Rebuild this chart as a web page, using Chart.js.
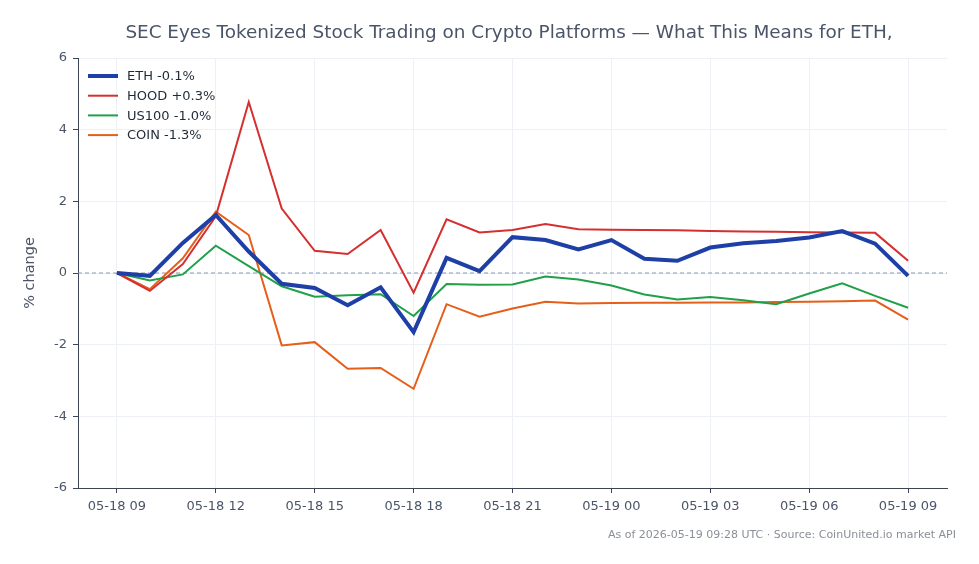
<!DOCTYPE html>
<html>
<head>
<meta charset="utf-8">
<script src="https://cdn.jsdelivr.net/npm/chart.js@4.4.1/dist/chart.umd.min.js"></script>
<style>
  html, body { margin: 0; padding: 0; background: #fff; }
  canvas { display: block; }
</style>
</head>
<body>
<canvas id="chart" width="979" height="564"></canvas>
<script>
// hours since 05-18 09:00 UTC
const hours = [0, 1, 2, 3, 4, 5, 6, 7, 8, 9, 10, 11, 12, 13, 14, 15, 16, 17, 18, 19, 20, 21, 22, 23, 24];
const tickHours = [0, 3, 6, 9, 12, 15, 18, 21, 24];
const tickLabels = ['05-18 09', '05-18 12', '05-18 15', '05-18 18', '05-18 21', '05-19 00', '05-19 03', '05-19 06', '05-19 09'];

const ethValues = [0, -0.08, 0.84, 1.62, 0.6, -0.3, -0.42, -0.9, -0.4, -1.65, 0.42, 0.05, 1.0, 0.92, 0.66, 0.92, 0.4, 0.34, 0.71, 0.83, 0.89, 0.99, 1.17, 0.82, -0.08];
const hoodValues = [0, -0.5, 0.25, 1.58, 4.77, 1.8, 0.62, 0.53, 1.2, -0.55, 1.5, 1.13, 1.2, 1.37, 1.22, 1.21, 1.2, 1.19, 1.17, 1.16, 1.15, 1.14, 1.13, 1.12, 0.34];
const us100Values = [0, -0.21, -0.04, 0.76, 0.19, -0.37, -0.66, -0.62, -0.59, -1.2, -0.31, -0.33, -0.32, -0.1, -0.18, -0.35, -0.6, -0.74, -0.67, -0.76, -0.87, -0.57, -0.29, -0.64, -0.97];
const coinValues = [0, -0.45, 0.41, 1.71, 1.06, -2.02, -1.93, -2.67, -2.65, -3.23, -0.87, -1.22, -0.99, -0.8, -0.85, -0.84, -0.83, -0.83, -0.82, -0.82, -0.81, -0.8, -0.79, -0.77, -1.3];

const seriesLabels = ['ETH -0.1%', 'HOOD +0.3%', 'US100 -1.0%', 'COIN -1.3%'];
const seriesColors = ['#1e3fa6', '#d62f2f', '#20a04a', '#e4601a'];
const seriesWidths = [4, 2, 2, 2];

const titleText = 'SEC Eyes Tokenized Stock Trading on Crypto Platforms — What This Means for ETH,';
const footerText = 'As of 2026-05-19 09:28 UTC · Source: CoinUnited.io market API';

const FONT = '"DejaVu Sans", sans-serif';
const TEXT_COLOR = '#4a5568';

function points(values) {
    return hours.map((h, i) => ({ x: h, y: values[i] }));
}

const datasets = [ethValues, hoodValues, us100Values, coinValues].map((vals, i) => ({
    label: seriesLabels[i],
    data: points(vals),
    borderColor: seriesColors[i],
    backgroundColor: seriesColors[i],
    borderWidth: seriesWidths[i],
    pointRadius: 0,
    tension: 0,
    fill: false,
    order: i
}));

// title, zero line, in-plot legend and footer
const decorations = {
    id: 'decorations',
    beforeDatasetsDraw(chart) {
        const { ctx, chartArea, scales } = chart;
        const y0 = scales.y.getPixelForValue(0);
        ctx.save();
        ctx.strokeStyle = '#8496b8';
        ctx.lineWidth = 1;
        ctx.setLineDash([4, 3]);
        ctx.beginPath();
        ctx.moveTo(chartArea.left, y0);
        ctx.lineTo(chartArea.right, y0);
        ctx.stroke();
        ctx.restore();
    },
    afterDraw(chart) {
        const { ctx } = chart;
        ctx.save();
        ctx.fillStyle = TEXT_COLOR;
        ctx.font = '18.4px ' + FONT;
        ctx.textAlign = 'center';
        ctx.textBaseline = 'middle';
        ctx.fillText(titleText, 509, 33);

        ctx.font = '13px ' + FONT;
        ctx.textAlign = 'left';
        seriesLabels.forEach((label, i) => {
            const y = 76 + i * 19.7;
            ctx.strokeStyle = seriesColors[i];
            ctx.lineWidth = seriesWidths[i];
            ctx.beginPath();
            ctx.moveTo(88, y);
            ctx.lineTo(118, y);
            ctx.stroke();
            ctx.fillStyle = '#1f2937';
            ctx.fillText(label, 127, y + 1);
        });

        ctx.font = '11px ' + FONT;
        ctx.fillStyle = '#8a8f98';
        ctx.textAlign = 'right';
        ctx.fillText(footerText, 956, 535);
        ctx.restore();
    }
};

new Chart(document.getElementById('chart'), {
    type: 'line',
    data: { datasets: datasets },
    options: {
        responsive: false,
        animation: false,
        layout: { padding: { left: 22, right: 32, top: 58, bottom: 0 } },
        plugins: {
            legend: { display: false },
            tooltip: { enabled: false }
        },
        scales: {
            x: {
                type: 'linear',
                min: -1.18,
                max: 25.18,
                afterBuildTicks: axis => {
                    axis.ticks = tickHours.map(v => ({ value: v }));
                },
                afterFit: axis => { axis.height = 76; },
                ticks: {
                    callback: v => tickLabels[tickHours.indexOf(v)],
                    color: TEXT_COLOR,
                    font: { family: FONT, size: 13 },
                    padding: 6,
                    maxRotation: 0,
                    autoSkip: false
                },
                grid: {
                    color: '#edf0f4',
                    tickColor: '#3b4556',
                    tickLength: 5
                },
                border: { color: '#3b4556', width: 1 }
            },
            y: {
                min: -6,
                max: 6,
                afterFit: axis => { axis.width = 56; },
                ticks: {
                    stepSize: 2,
                    color: TEXT_COLOR,
                    font: { family: FONT, size: 13 },
                    padding: 6
                },
                grid: {
                    color: '#edf0f4',
                    tickColor: '#3b4556',
                    tickLength: 5
                },
                border: { color: '#3b4556', width: 1 },
                title: {
                    display: true,
                    text: '% change',
                    color: TEXT_COLOR,
                    font: { family: FONT, size: 14.5 },
                    padding: 0
                }
            }
        }
    },
    plugins: [decorations]
});
</script>
</body>
</html>
